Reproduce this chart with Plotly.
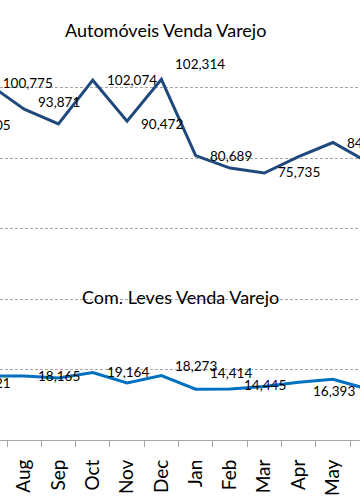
import plotly.graph_objects as go

# ---- data ----
months = ["Jun", "Jul", "Aug", "Sep", "Oct", "Nov", "Dec", "Jan", "Feb", "Mar", "Apr", "May", "Jun"]
auto_values = [88805, 100775, 93871, 89650, 102074, 90472, 102314, 80689, 77150, 75735, 80400, 84390, 78900]
leves_values = [15621, 18150, 18165, 17600, 19164, 16170, 18273, 14414, 14445, 15150, 16393, 17250, 14480]
auto_title = "Automóveis Venda Varejo"
leves_title = "Com. Leves Venda Varejo"

# which points carry a data label, and the label's vertical nudge (px)
auto_label_shift = {0: 0, 1: 0, 2: 7, 4: 0, 5: -3, 6: 15, 7: 0, 9: 1, 11: 0}
leves_label_shift = {0: 0, 2: 0, 4: 0, 6: 10, 7: 16, 8: 4, 10: -9}

# ---- styling ----
FONT = "Lato"
AUTO_COLOR = "#1F497D"
LEVES_COLOR = "#0070C0"
GRID = "#a6a6a6"
X_RANGE = [1.296, 11.79]
LABEL_SIZE = 13.5

xs = list(range(len(months)))

fig = go.Figure()
fig.add_trace(go.Scatter(x=xs, y=auto_values, mode="lines",
                         line=dict(color=AUTO_COLOR, width=3), hoverinfo="skip"))
fig.add_trace(go.Scatter(x=xs, y=leves_values, mode="lines",
                         line=dict(color=LEVES_COLOR, width=3), hoverinfo="skip"))

annotations = []


def add_labels(values, shifts):
    off_x, off_y, off_t = [], [], []
    for i, dy in shifts.items():
        txt = f"{values[i]:,}"
        if X_RANGE[0] <= xs[i] <= X_RANGE[1]:
            annotations.append(dict(x=xs[i], y=values[i], xref="x", yref="y", text=txt,
                                    showarrow=False, xanchor="left", yanchor="middle",
                                    xshift=12, yshift=dy,
                                    font=dict(family=FONT, size=LABEL_SIZE, color="#000")))
        else:
            off_x.append(xs[i]); off_y.append(values[i]); off_t.append(txt)
    if off_x:
        fig.add_trace(go.Scatter(x=off_x, y=off_y, mode="markers+text", text=off_t,
                                 textposition="middle right",
                                 marker=dict(size=19, opacity=0),
                                 textfont=dict(family=FONT, size=LABEL_SIZE, color="#000"),
                                 cliponaxis=True, hoverinfo="skip"))


add_labels(auto_values, auto_label_shift)
add_labels(leves_values, leves_label_shift)

annotations.append(dict(x=165 / 360, y=0.969, xref="paper", yref="paper", text=auto_title,
                        showarrow=False, xanchor="center", yanchor="middle",
                        font=dict(family=FONT, size=18, color="#000")))
annotations.append(dict(x=180 / 360, y=0.338, xref="paper", yref="paper", text=leves_title,
                        showarrow=False, xanchor="center", yanchor="middle",
                        font=dict(family=FONT, size=18, color="#000")))

fig.update_layout(
    width=360, height=504,
    margin=dict(l=0, r=0, t=17, b=64, autoexpand=False),
    paper_bgcolor="white", plot_bgcolor="white",
    showlegend=False,
    annotations=annotations,
    xaxis=dict(range=X_RANGE, tickmode="array", tickvals=xs, ticktext=months,
               tickangle=-90, ticks="", ticklabelstandoff=11, automargin=False,
               tickfont=dict(family=FONT, size=19, color="#000"),
               showline=True, linecolor=GRID, linewidth=1, showgrid=False, zeroline=False,
               minor=dict(tickmode="linear", tick0=0.5, dtick=1, ticks="outside",
                          ticklen=6, tickcolor=GRID, tickwidth=1, showgrid=False)),
    yaxis=dict(range=[0, 120000], dtick=20000, showticklabels=False, ticks="",
               automargin=False,
               showgrid=True, gridcolor=GRID, gridwidth=1, griddash="3px,2px",
               zeroline=False, showline=False),
)

fig.write_html("out.html", config={"displayModeBar": False},
               post_script="document.body.style.margin='0px';document.body.style.overflow='hidden';")
